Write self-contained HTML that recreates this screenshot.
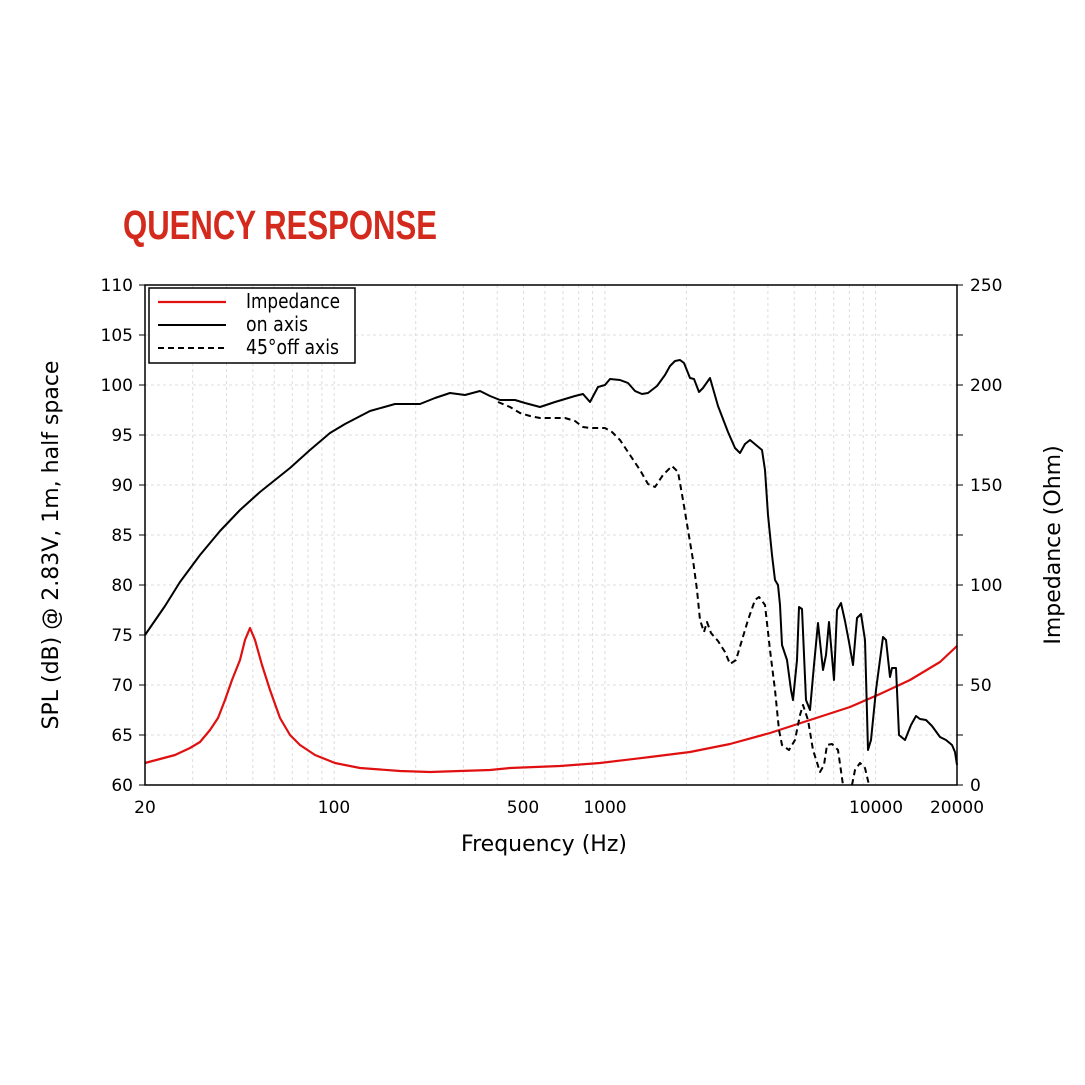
<!DOCTYPE html>
<html><head><meta charset="utf-8"><style>
html,body{margin:0;padding:0;background:#fff;}
svg{display:block;font-family:"DejaVu Sans","Liberation Sans",sans-serif;}
</style></head><body>
<svg width="1085" height="1085" viewBox="0 0 1085 1085" xmlns="http://www.w3.org/2000/svg">
<rect width="1085" height="1085" fill="#fff"/>
<text x="123" y="239" font-family="Liberation Sans Narrow, Liberation Sans, sans-serif" font-weight="bold" font-size="41" fill="#d42a1e" textLength="314" lengthAdjust="spacingAndGlyphs">QUENCY RESPONSE</text>
<g stroke="#ddd" stroke-width="1" stroke-dasharray="3,3">
<line x1="145" x2="957" y1="335" y2="335"/><line x1="145" x2="957" y1="385" y2="385"/><line x1="145" x2="957" y1="435" y2="435"/><line x1="145" x2="957" y1="485" y2="485"/><line x1="145" x2="957" y1="535" y2="535"/><line x1="145" x2="957" y1="585" y2="585"/><line x1="145" x2="957" y1="635" y2="635"/><line x1="145" x2="957" y1="685" y2="685"/><line x1="145" x2="957" y1="735" y2="735"/>
<line x1="192.7" x2="192.7" y1="285" y2="785"/><line x1="226.5" x2="226.5" y1="285" y2="785"/><line x1="252.8" x2="252.8" y1="285" y2="785"/><line x1="274.2" x2="274.2" y1="285" y2="785"/><line x1="292.3" x2="292.3" y1="285" y2="785"/><line x1="308" x2="308" y1="285" y2="785"/><line x1="321.9" x2="321.9" y1="285" y2="785"/><line x1="334.2" x2="334.2" y1="285" y2="785"/>
<line x1="415.7" x2="415.7" y1="285" y2="785"/><line x1="463.4" x2="463.4" y1="285" y2="785"/><line x1="497.2" x2="497.2" y1="285" y2="785"/><line x1="523.5" x2="523.5" y1="285" y2="785"/><line x1="544.9" x2="544.9" y1="285" y2="785"/><line x1="563" x2="563" y1="285" y2="785"/><line x1="578.7" x2="578.7" y1="285" y2="785"/><line x1="592.6" x2="592.6" y1="285" y2="785"/><line x1="604.9" x2="604.9" y1="285" y2="785"/>
<line x1="686.4" x2="686.4" y1="285" y2="785"/><line x1="734.1" x2="734.1" y1="285" y2="785"/><line x1="767.9" x2="767.9" y1="285" y2="785"/><line x1="794.2" x2="794.2" y1="285" y2="785"/><line x1="815.6" x2="815.6" y1="285" y2="785"/><line x1="833.7" x2="833.7" y1="285" y2="785"/><line x1="849.4" x2="849.4" y1="285" y2="785"/><line x1="863.3" x2="863.3" y1="285" y2="785"/><line x1="875.6" x2="875.6" y1="285" y2="785"/>
</g>
<g fill="none" stroke-linejoin="round">
<polyline stroke="#e01010" stroke-width="2.2" points="145,763 160,759 175,755 190,748 200,742 210,730 218,718 225,700 232,680 240,660 245,640 250,628 255,640 262,665 270,690 280,718 290,735 300,745 315,755 335,763 360,768 400,771 430,772 490,770 510,768 560,766 600,763 650,757 690,752 730,744 770,733 810,720 850,707 880,694 910,680 940,662 957,646"/>
<polyline stroke="#000" stroke-width="2" points="145,635 165,606 180,582 200,555 220,531 240,510 260,492 290,468 310,450 330,433 345,424 370,411 395,404 420,404 435,398 450,393 465,395 480,391 490,396 500,400 515,400 525,403 540,407 555,402 565,399 575,396 583,394 590,402 598,387 605,385 610,379 620,380 628,383 635,391 642,394 648,393 657,386 665,375 670,366 675,361 680,360 684,363 690,378 694,379 699,392 703,388 710,378 718,406 728,432 735,448 740,453 745,444 750,440 756,445 762,450 765,470 768,515 772,555 775,580 778,585 780,605 782,645 785,654 787,660 791,690 793,700 797,660 799,607 802,609 806,700 810,710 814,665 818,623 823,670 826,655 829,622 834,680 837,610 841,603 845,621 849,642 853,665 857,618 861,614 865,640 868,750 871,740 876,690 883,637 886,640 890,677 892,668 896,668 899,735 905,740 911,725 916,716 920,719 926,720 932,726 940,737 946,740 952,745 955,752 957,765"/>
<polyline stroke="#000" stroke-width="2" stroke-dasharray="6,4" points="498,402 510,407 520,413 530,416 540,418 550,418 565,418 575,421 583,427 590,428 605,428 612,432 620,440 630,455 640,470 648,484 655,487 663,475 672,466 678,472 683,500 688,530 693,560 697,590 700,620 704,632 707,622 711,633 718,641 725,652 730,664 736,660 742,640 748,620 755,600 759,597 765,605 770,650 775,690 779,730 782,745 789,750 795,740 800,715 803,705 808,720 813,750 820,772 824,765 827,745 832,744 838,750 843,785"/>
<polyline stroke="#000" stroke-width="2" stroke-dasharray="6,4" points="852,785 855,770 860,763 865,768 869,785"/>
</g>
<rect x="145" y="285" width="812" height="500" fill="none" stroke="#000" stroke-width="1.5"/>
<g stroke="#000" stroke-width="1">
<line x1="139" x2="145" y1="285" y2="285"/><line x1="139" x2="145" y1="335" y2="335"/><line x1="139" x2="145" y1="385" y2="385"/><line x1="139" x2="145" y1="435" y2="435"/><line x1="139" x2="145" y1="485" y2="485"/><line x1="139" x2="145" y1="535" y2="535"/><line x1="139" x2="145" y1="585" y2="585"/><line x1="139" x2="145" y1="635" y2="635"/><line x1="139" x2="145" y1="685" y2="685"/><line x1="139" x2="145" y1="735" y2="735"/><line x1="139" x2="145" y1="785" y2="785"/>
<line x1="957" x2="963" y1="285" y2="285"/><line x1="957" x2="963" y1="335" y2="335"/><line x1="957" x2="963" y1="385" y2="385"/><line x1="957" x2="963" y1="435" y2="435"/><line x1="957" x2="963" y1="485" y2="485"/><line x1="957" x2="963" y1="535" y2="535"/><line x1="957" x2="963" y1="585" y2="585"/><line x1="957" x2="963" y1="635" y2="635"/><line x1="957" x2="963" y1="685" y2="685"/><line x1="957" x2="963" y1="735" y2="735"/><line x1="957" x2="963" y1="785" y2="785"/>
</g>
<g font-size="17" fill="#000" text-anchor="end">
<text x="133" y="291">110</text><text x="133" y="341">105</text><text x="133" y="391">100</text><text x="133" y="441">95</text><text x="133" y="491">90</text><text x="133" y="541">85</text><text x="133" y="591">80</text><text x="133" y="641">75</text><text x="133" y="691">70</text><text x="133" y="741">65</text><text x="133" y="791">60</text>
</g>
<g font-size="17" fill="#000" text-anchor="start">
<text x="970" y="291">250</text><text x="970" y="391">200</text><text x="970" y="491">150</text><text x="970" y="591">100</text><text x="970" y="691">50</text><text x="970" y="791">0</text>
</g>
<g font-size="17" fill="#000" text-anchor="middle">
<text x="145" y="813">20</text><text x="334" y="813">100</text><text x="523" y="813">500</text><text x="605" y="813">1000</text><text x="876" y="813">10000</text><text x="957" y="813">20000</text>
</g>
<text x="544" y="851" font-size="22" text-anchor="middle" fill="#000">Frequency (Hz)</text>
<text transform="translate(58,545) rotate(-90)" font-size="22" text-anchor="middle" fill="#000">SPL (dB) @ 2.83V, 1m, half space</text>
<text transform="translate(1060,545) rotate(-90)" font-size="22" text-anchor="middle" fill="#000">Impedance (Ohm)</text>
<rect x="149" y="288" width="206" height="75" fill="#fff" stroke="#000" stroke-width="1.5"/>
<line x1="158" x2="226" y1="302" y2="302" stroke="#e01010" stroke-width="2.2"/>
<line x1="158" x2="226" y1="325" y2="325" stroke="#000" stroke-width="2"/>
<line x1="158" x2="226" y1="348" y2="348" stroke="#000" stroke-width="2" stroke-dasharray="6,4"/>
<g font-size="20" fill="#000" lengthAdjust="spacingAndGlyphs">
<text x="246" y="308" textLength="94" lengthAdjust="spacingAndGlyphs">Impedance</text><text x="246" y="331" textLength="62" lengthAdjust="spacingAndGlyphs">on axis</text><text x="246" y="354" textLength="93" lengthAdjust="spacingAndGlyphs">45°off axis</text>
</g>
</svg>
</body></html>
